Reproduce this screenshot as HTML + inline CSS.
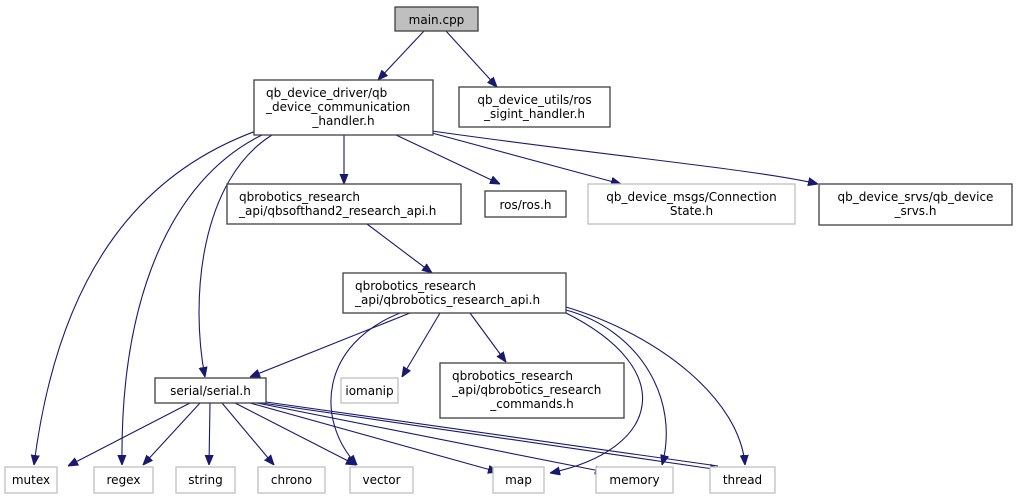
<!DOCTYPE html>
<html><head><meta charset="utf-8"><style>
html,body{margin:0;padding:0;background:#fff;}
svg{display:block;}
text{font-family:"DejaVu Sans","Liberation Sans",sans-serif;font-size:12px;fill:#000;}
.b{fill:#fff;stroke:#404040;stroke-width:1.3;}
.g{fill:#fff;stroke:#bfbfbf;stroke-width:1.3;}
.e{fill:none;stroke:#191970;stroke-width:1.1;}
</style></head><body>
<svg width="1017" height="499" viewBox="0 0 1017 499" xmlns="http://www.w3.org/2000/svg">
<defs><marker id="a" viewBox="0 0 10 10" refX="10" refY="5" markerWidth="10" markerHeight="10" markerUnits="userSpaceOnUse" orient="auto"><path d="M0,1 L10,5 L0,9 z" fill="#191970" stroke="#191970"/></marker></defs>

<!-- edges -->
<g class="e" marker-end="url(#a)">
<path d="M424,31 L378,80"/>
<path d="M446,31 L497,87"/>
<path d="M256,131 C150,170 60,260 34,465"/>
<path d="M262,135 C170,180 120,300 122,465"/>
<path d="M272,135 C200,180 190,300 205,377"/>
<path d="M344,135 L344,184"/>
<path d="M396,135 L500,184"/>
<path d="M432,133 L621,184"/>
<path d="M432,131 C600,155 760,170 818,184"/>
<path d="M367,224 L432,273"/>
<path d="M410,313 L250,377"/>
<path d="M400,313 C320,345 315,420 357,465"/>
<path d="M440,313 L402,377"/>
<path d="M470,313 L506,362"/>
<path d="M566,313 C680,370 660,450 550,473"/>
<path d="M566,310 C640,330 680,400 662,465"/>
<path d="M566,307 C660,335 740,400 745,465"/>
<path d="M190,403 L68,466"/>
<path d="M200,403 L143,465"/>
<path d="M210,403 L209,465"/>
<path d="M222,403 L274,465"/>
<path d="M235,403 L356,465"/>
<path d="M250,403 L498,472"/>
<path d="M257,403 L605,472"/>
<path d="M262,403 L720,470"/>
<path d="M266,402 L718,466" marker-end="none"/>
</g>

<!-- nodes -->
<rect x="395" y="7" width="83" height="24" fill="#bfbfbf" stroke="#404040" stroke-width="1.3"/>
<text x="436.5" y="24" text-anchor="middle">main.cpp</text>

<rect class="b" x="254" y="80" width="179" height="55"/>
<text x="266" y="97">qb_device_driver/qb</text>
<text x="266" y="111">_device_communication</text>
<text x="343.5" y="125" text-anchor="middle">_handler.h</text>

<rect class="b" x="459" y="87" width="151" height="40"/>
<text x="534.5" y="104" text-anchor="middle">qb_device_utils/ros</text>
<text x="534.5" y="118" text-anchor="middle">_sigint_handler.h</text>

<rect class="b" x="227" y="184" width="234" height="40"/>
<text x="239" y="201">qbrobotics_research</text>
<text x="239" y="215">_api/qbsofthand2_research_api.h</text>

<rect class="b" x="485" y="191" width="81" height="26"/>
<text x="525.5" y="209" text-anchor="middle">ros/ros.h</text>

<rect class="g" x="588" y="184" width="207" height="40"/>
<text x="691.5" y="201" text-anchor="middle">qb_device_msgs/Connection</text>
<text x="691.5" y="215" text-anchor="middle">State.h</text>

<rect class="b" x="819" y="184" width="193" height="41"/>
<text x="915.5" y="201" text-anchor="middle">qb_device_srvs/qb_device</text>
<text x="915.5" y="215" text-anchor="middle">_srvs.h</text>

<rect class="b" x="343" y="273" width="223" height="40"/>
<text x="355" y="290">qbrobotics_research</text>
<text x="355" y="304">_api/qbrobotics_research_api.h</text>

<rect class="b" x="155" y="378" width="111" height="25"/>
<text x="210.5" y="395" text-anchor="middle">serial/serial.h</text>

<rect class="g" x="341" y="378" width="57" height="25"/>
<text x="369.5" y="395" text-anchor="middle">iomanip</text>

<rect class="b" x="440" y="363" width="184" height="55"/>
<text x="452" y="380">qbrobotics_research</text>
<text x="452" y="394">_api/qbrobotics_research</text>
<text x="532" y="408" text-anchor="middle">_commands.h</text>

<rect class="g" x="5" y="467" width="52" height="26"/><text x="31" y="484" text-anchor="middle">mutex</text>
<rect class="g" x="94" y="467" width="59" height="26"/><text x="123.5" y="484" text-anchor="middle">regex</text>
<rect class="g" x="176" y="467" width="59" height="26"/><text x="205.5" y="484" text-anchor="middle">string</text>
<rect class="g" x="258" y="467" width="67" height="26"/><text x="291.5" y="484" text-anchor="middle">chrono</text>
<rect class="g" x="350" y="467" width="63" height="26"/><text x="381.5" y="484" text-anchor="middle">vector</text>
<rect class="g" x="493" y="467" width="51" height="26"/><text x="518.5" y="484" text-anchor="middle">map</text>
<rect class="g" x="596" y="467" width="77" height="26"/><text x="634.5" y="484" text-anchor="middle">memory</text>
<rect class="g" x="710" y="467" width="65" height="26"/><text x="742.5" y="484" text-anchor="middle">thread</text>
</svg>
</body></html>
